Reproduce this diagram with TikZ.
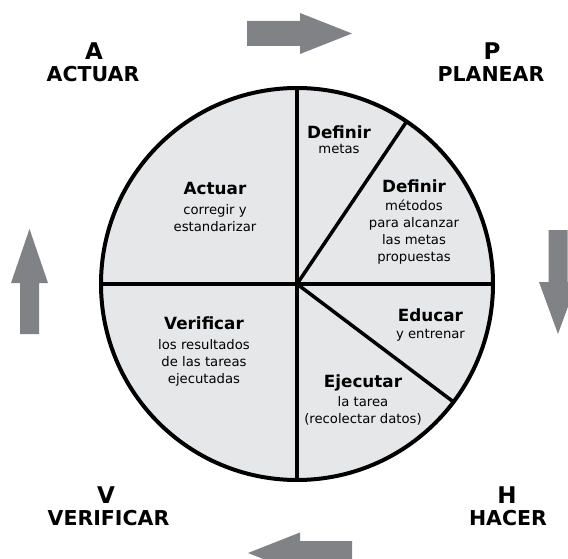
\documentclass[tikz,border=0pt]{standalone}
\usepackage{fontspec}
\setmainfont{DejaVu Sans}
\definecolor{sectorfill}{HTML}{E6E7E8}
\definecolor{arrowgray}{HTML}{808285}
\newcommand{\hd}[1]{{\fontsize{16.8}{17}\selectfont\bfseries #1}}
\begin{document}
\begin{tikzpicture}[x=1pt,y=-1pt,
  wheel/.style={circle,draw=black,line width=4pt,fill=sectorfill,minimum size=392pt,inner sep=0pt,outer sep=0pt},
  divider/.style={line width=3.5pt,line cap=round},
  sectortext/.style={align=center,anchor=base,inner sep=0pt,font=\fontsize{13.2}{17}\selectfont},
  bigletter/.style={anchor=base,inner sep=0pt,font=\fontsize{23}{23}\selectfont\bfseries},
  bigword/.style={anchor=base,inner sep=0pt,font=\fontsize{20.5}{20.5}\selectfont\bfseries},
  flow/.style={fill=arrowgray,draw=none}]
\useasboundingbox (0,0) rectangle (568,559);
\fill[white] (0,0) rectangle (568,559);

% wheel
\node[wheel] (c) at (297,284) {};
\draw[divider] (c.center) -- (c.90);
\draw[divider] (c.center) -- (c.-90);
\draw[divider] (c.center) -- (c.0);
\draw[divider] (c.center) -- (c.180);
\draw[divider] (c.center) -- (c.56.5);
\draw[divider] (c.center) -- (c.-37);

% sector texts (anchor = baseline of last line)
\node[sectortext] (actuar) at (215,231) {\hd{Actuar}\\[2pt] corregir y\\ estandarizar};
\node[sectortext] (metas) at (339,154) {\hd{Definir}\\[-2pt] metas};
\node[sectortext] (metodos) at (414,261) {\hd{Definir}\\[1pt] métodos\\ para alcanzar\\ las metas\\ propuestas};
\node[sectortext] (educar) at (430.5,338) {\hd{Educar}\\ y entrenar};
\node[sectortext] (ejecutar) at (363,423) {\hd{Ejecutar}\\[2pt] la tarea\\ (recolectar datos)};
\node[sectortext] (verificar) at (204,383) {\hd{Verificar}\\[3pt] los resultados\\ de las tareas\\ ejecutadas};

% corner labels
\node[bigletter] (la) at (94,60) {A};
\node[bigword] (lactuar) at (93,82) {ACTUAR};
\node[bigletter] (lp) at (492,60) {P};
\node[bigword] (lplanear) at (491,82) {PLANEAR};
\node[bigletter] (lv) at (106,503) {V};
\node[bigword] (lverificar) at (108.5,525) {VERIFICAR};
\node[bigletter] (lh) at (507,503) {H};
\node[bigword] (lhacer) at (508,525) {HACER};

% flow arrows
\fill[flow] (247,21) -- (300,21) -- (300,13) -- (352,33.5) -- (300,54) -- (300,46) -- (247,46) -- cycle;
\fill[flow] (548.5,230) -- (548.5,282) -- (539,282) -- (558,334) -- (577,282) -- (567.5,282) -- (567.5,230) -- cycle;
\fill[flow] (352,541) -- (300,541) -- (300,532.5) -- (248,553) -- (300,573.5) -- (300,565) -- (352,565) -- cycle;
\fill[flow] (20,334) -- (20,283) -- (11,283) -- (29.5,229) -- (48,283) -- (39,283) -- (39,334) -- cycle;
\end{tikzpicture}
\end{document}
